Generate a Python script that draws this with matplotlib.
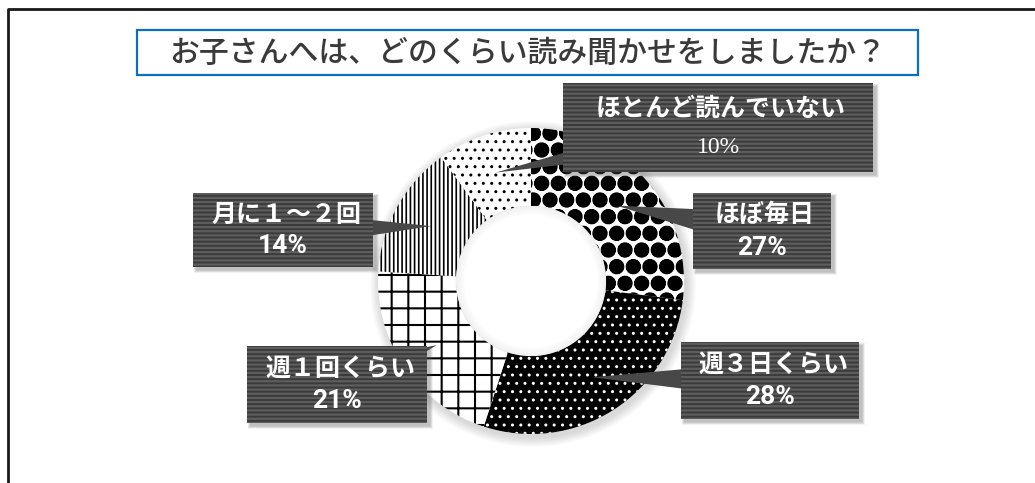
import numpy as np
import matplotlib
matplotlib.use('Agg')
import matplotlib.pyplot as plt
from matplotlib.patches import Rectangle, Polygon, Circle

plt.rcParams['font.family'] = ['Noto Sans CJK JP', 'DejaVu Sans']

# Survey answers, clockwise from 12 o'clock
labels = ['ほぼ毎日', '週３日くらい', '週１回くらい', '月に１～２回', 'ほとんど読んでいない']
values = [27, 28, 21, 14, 10]
pct_labels = ['27%', '28%', '21%', '14%', '10%']
title = 'お子さんへは、どのくらい読み聞かせをしましたか？'

# fill style per slice: (face, hatch colour, hatch, hatch linewidth)
styles = [
    ('white', 'black', 'O.', 2.6),
    ('black', 'white', '..', 1.0),
    ('white', 'black', '+', 1.5),
    ('white', 'black', '||||', 1.2),
    ('white', 'black', '..', 1.0),
]

# label box placement in pixel space: x0, y0, width, height
boxes = [
    (693, 193, 138, 76),
    (681, 342, 178, 77),
    (247, 346, 180, 77),
    (193, 193, 180, 74),
    (563, 83, 310, 89),
]

W, H = 1035, 483
fig = plt.figure(figsize=(W / 100, H / 100), dpi=100)
ax = fig.add_axes([0, 0, 1, 1])

# outer frame (only top and left edges fall inside the image)
ax.plot([8, 8, W + 5], [H + 5, 9, 9], color='#1a1a1a', lw=2, solid_capstyle='butt')

cx, cy, r_out, ring = 531, 281, 153, 78

# soft halo around the ring
for k in range(10):
    ax.add_patch(Circle((cx + 2, cy + 3), r_out + 10 - k, color='#808080',
                        alpha=0.03, lw=0, zorder=0.5))

wedges, _ = ax.pie(values, startangle=-90, counterclock=True, radius=r_out,
                   center=(cx, cy), wedgeprops=dict(width=ring, lw=0))
for w, (fc, hc, hatch, hlw) in zip(wedges, styles):
    w.set_facecolor(fc)
    w.set_edgecolor(hc)
    w.set_linewidth(0)
    w.set_hatch(hatch)
    w.set_hatch_linewidth(hlw)
    w.set_zorder(1)

# shaded hole, fading toward the middle
r_in = r_out - ring
ax.add_patch(Circle((cx, cy), r_in, color='white', lw=0, zorder=1.1))
for k in range(10):
    ax.add_patch(Circle((cx, cy), r_in - k * 0.9, facecolor='none', edgecolor='#9a9a9a',
                        lw=1.0, alpha=0.09 * (10 - k) / 10, zorder=1.2))

ax.set_xlim(0, W)
ax.set_ylim(H, 0)
ax.axis('off')

# title
ax.add_patch(Rectangle((137, 30), 781, 45, facecolor='white', edgecolor='#0a6fc4',
                       lw=1.6, zorder=5))
ax.text((137 + 918) / 2, 53, title, ha='center', va='center', fontsize=21.5,
        fontweight='medium', color='#3a3a3a', zorder=6)

# callout boxes with pointers
for w, lab, pct, (x0, y0, bw, bh) in zip(wedges, labels, pct_labels, boxes):
    mid = np.deg2rad((w.theta1 + w.theta2) / 2)
    rr = r_out - ring / 2
    tip = (cx + rr * np.cos(mid), cy + rr * np.sin(mid))
    bx, by = x0 + bw / 2, y0 + bh / 2
    d = np.array([tip[0] - bx, tip[1] - by])
    n = np.array([-d[1], d[0]]) / np.hypot(*d)
    base = np.array([bx, by])
    ax.add_patch(Polygon([base + n * 19, base - n * 19, tip], closed=True,
                         facecolor='#484848', lw=0, zorder=3))

    for k in range(6):
        ax.add_patch(Rectangle((x0 + 3 - k * 0.5, y0 + 3 - k * 0.5), bw + k, bh + k,
                               facecolor='#555555', alpha=0.07, lw=0, zorder=3.5))
    plt.rcParams['hatch.linewidth'] = 1.6
    ax.add_patch(Rectangle((x0, y0), bw, bh, facecolor='#3b3b3b', edgecolor='#5d5d5d',
                           hatch='----', lw=0, zorder=4))
    ax.text(bx + 3, y0 + bh * 0.29, lab, ha='center', va='center', fontsize=18,
            fontweight='bold', color='white', zorder=6)
    if pct == '10%':
        ax.text(bx, y0 + bh * 0.72, pct, ha='center', va='center', fontsize=17,
                family=['Liberation Serif', 'DejaVu Serif'], color='white', zorder=6)
    else:
        ax.text(bx, y0 + bh * 0.72, pct, ha='center', va='center', fontsize=19,
                fontweight='bold', family=['Roboto', 'DejaVu Sans'],
                color='white', zorder=6)

fig.savefig('out.png', dpi=100)
